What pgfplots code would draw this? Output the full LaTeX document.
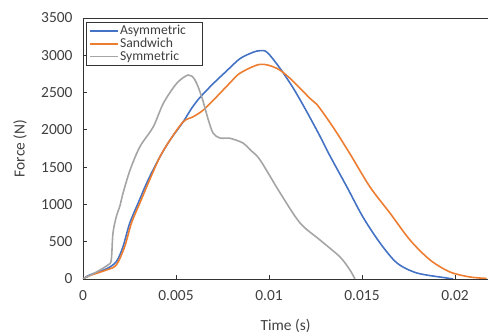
\documentclass[border=0pt]{standalone}
\usepackage{pgfplots}
\pgfplotsset{compat=1.18}
\usepackage{fontspec}
\setmainfont{Carlito}
\definecolor{cblue}{HTML}{4472C4}
\definecolor{corange}{HTML}{ED7D31}
\definecolor{cgray}{HTML}{A5A5A5}
\definecolor{ctext}{HTML}{404040}
\begin{document}
\begin{tikzpicture}
\begin{axis}[
  at={(0,0)}, anchor=south west,
  scale only axis, width=405bp, height=261bp,
  xmin=0, xmax=0.021774, ymin=0, ymax=3500,
  axis x line*=bottom, axis y line*=left,
  axis line style={black!80, line width=0.9pt, -},
  scaled x ticks=false, scaled y ticks=false,
  xtick={0,0.005,0.01,0.015,0.02},
  xticklabels={0,0.005,0.01,0.015,0.02},
  ytick={0,500,...,3500},
  /pgf/number format/set thousands separator={},
  tick align=inside, major tick length=4bp,
  tick style={black!80, line width=0.9pt},
  ticklabel style={font=\fontsize{15.5}{16}\selectfont, text=ctext},
  /pgf/number format/assume math mode=true,
  xticklabel style={yshift=-8bp},
  yticklabel style={xshift=-7bp},
  xlabel={Time (s)}, ylabel={Force (N)},
  label style={font=\fontsize{15.5}{16}\selectfont, text=ctext},
  xlabel style={at={(axis description cs:0.5,0)}, anchor=center, yshift=-47bp},
  ylabel style={at={(axis description cs:0,0.5)}, anchor=center, xshift=0bp, yshift=63bp},
  legend style={at={(rel axis cs:0.0074,0.985)}, anchor=north west,
    draw=black!80, line width=0.9pt, font=\fontsize{13.7}{14}\selectfont, text=ctext,
    inner xsep=3bp, inner ysep=2bp, row sep=0bp,
    nodes={inner sep=1bp}},
  legend cell align=left,
  legend image code/.code={\draw[#1, line width=1.6pt] (12bp,0bp)--(40bp,0bp);},
  every axis plot/.append style={line width=1.6pt, smooth, tension=0.5},
]
\addplot[cblue] table {
0 0
0.00036 54
0.00125 135
0.00179 232
0.00215 433
0.00251 747
0.00296 1015
0.00350 1328
0.00414 1640
0.00468 1864
0.00539 2109
0.00584 2289
0.00629 2435
0.00700 2620
0.00772 2790
0.00844 2955
0.00914 3040
0.00952 3062
0.00990 3040
0.01059 2826
0.01131 2557
0.01203 2244
0.01274 1915
0.01328 1650
0.01419 1234
0.01505 831
0.01597 483
0.01688 215
0.01796 80
0.01957 13
0.0199 0
};
\addlegendentry{\makebox[78bp][l]{Asymmetric}}
\addplot[corange] table {
0 0
0.00036 45
0.00125 120
0.00179 188
0.00224 433
0.0026 747
0.00305 1015
0.00358 1328
0.00414 1640
0.00468 1864
0.00539 2109
0.00593 2177
0.00647 2266
0.00719 2445
0.0079 2630
0.00844 2760
0.00952 2879
0.01041 2826
0.01113 2691
0.0122 2423
0.01258 2340
0.01344 2038
0.01435 1680
0.01543 1234
0.0165 885
0.01758 523
0.01866 255
0.01973 94
0.0208 27
0.0217 8
};
\addlegendentry{\makebox[78bp][l]{Sandwich}}
\addplot[cgray] table {
0 0
0.0007 90
0.00134 188
0.00152 255
0.00161 613
0.00179 835
0.00199 985
0.00215 1149
0.00253 1462
0.00306 1774
0.00378 2042
0.00432 2356
0.00504 2624
0.00566 2736
0.00602 2669
0.00638 2445
0.00674 2132
0.007 1954
0.00737 1890
0.0079 1887
0.0086 1824
0.009 1730
0.00952 1596
0.0106 1153
0.01167 751
0.01274 523
0.01382 295
0.01435 121
0.01462 0
};
\addlegendentry{\makebox[78bp][l]{Symmetric}}
\draw[black!80, line width=0.9pt] (rel axis cs:0,1) -- (rel axis cs:1,1);
\end{axis}
\pgfresetboundingbox
\useasboundingbox (-83bp,-55bp) rectangle (405bp,279bp);
\end{tikzpicture}
\end{document}
